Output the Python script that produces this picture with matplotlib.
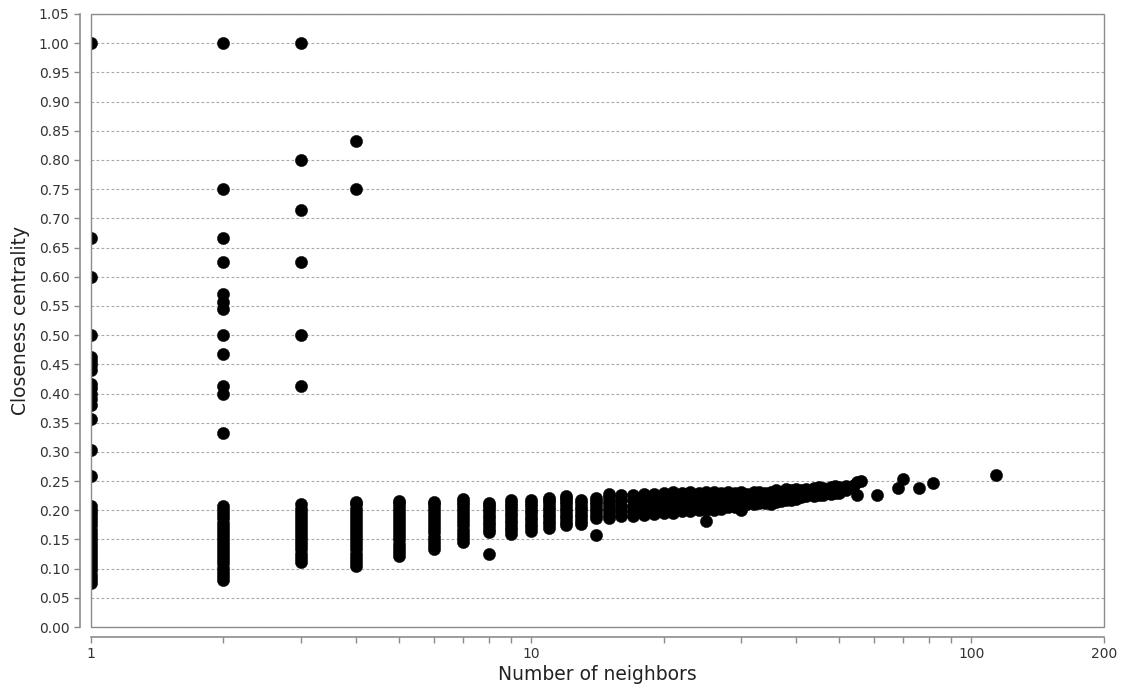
import matplotlib
matplotlib.use("Agg")
import matplotlib.pyplot as plt
import matplotlib.patches as mpatches
import matplotlib.ticker as mticker

# scattered nodes sitting away from the main cloud
sparse_deg = [1] * 16 + [2] * 12 + [3] * 6 + [4] * 2 + [8, 14, 25]
sparse_cc = [1.0, 0.667, 0.6, 0.5, 0.462, 0.455, 0.448, 0.44, 0.417, 0.41,
             0.4, 0.39, 0.38, 0.357, 0.303, 0.258,
             1.0, 0.75, 0.667, 0.625, 0.571, 0.556, 0.545, 0.5, 0.467,
             0.412, 0.4, 0.333,
             1.0, 0.8, 0.714, 0.625, 0.5, 0.412,
             0.833, 0.75,
             0.126, 0.158, 0.182]

# dense columns for low degrees
col_deg = [1, 2, 3, 4, 5, 6, 7, 8, 9, 10, 11, 12, 13, 14, 15]
col_cc = [
    [0.076, 0.083, 0.09, 0.097, 0.104, 0.111, 0.118, 0.125, 0.132, 0.139,
     0.146, 0.153, 0.16, 0.167, 0.174, 0.181, 0.188, 0.195, 0.201, 0.207],
    [0.081, 0.088, 0.095, 0.102, 0.109, 0.116, 0.123, 0.13, 0.137, 0.144,
     0.151, 0.158, 0.165, 0.172, 0.179, 0.186, 0.193, 0.2, 0.207],
    [0.112, 0.119, 0.126, 0.133, 0.14, 0.147, 0.154, 0.161, 0.168, 0.175,
     0.182, 0.189, 0.196, 0.203, 0.21],
    [0.105, 0.112, 0.119, 0.126, 0.133, 0.14, 0.147, 0.154, 0.161, 0.168,
     0.175, 0.182, 0.189, 0.196, 0.203, 0.21, 0.215],
    [0.122, 0.129, 0.136, 0.143, 0.15, 0.157, 0.164, 0.171, 0.178, 0.185,
     0.192, 0.199, 0.206, 0.213, 0.216],
    [0.134, 0.141, 0.148, 0.155, 0.162, 0.169, 0.176, 0.183, 0.19, 0.197,
     0.204, 0.21, 0.215],
    [0.146, 0.153, 0.16, 0.167, 0.174, 0.181, 0.188, 0.195, 0.202, 0.209,
     0.215, 0.22],
    [0.162, 0.168, 0.174, 0.18, 0.186, 0.192, 0.198, 0.204, 0.209, 0.213],
    [0.16, 0.166, 0.172, 0.178, 0.184, 0.19, 0.196, 0.202, 0.208, 0.213,
     0.218],
    [0.165, 0.171, 0.177, 0.183, 0.189, 0.195, 0.201, 0.207, 0.213, 0.218],
    [0.17, 0.176, 0.182, 0.188, 0.194, 0.2, 0.206, 0.212, 0.217, 0.221],
    [0.174, 0.18, 0.186, 0.192, 0.198, 0.204, 0.21, 0.216, 0.221, 0.224],
    [0.176, 0.182, 0.188, 0.194, 0.2, 0.206, 0.212, 0.218],
    [0.186, 0.192, 0.198, 0.204, 0.21, 0.216, 0.221],
    [0.186, 0.192, 0.198, 0.204, 0.21, 0.216, 0.222, 0.228],
]

# band of mid-degree nodes, five closeness levels per degree (low .. high)
band_deg = [16, 17, 18, 19, 20, 21, 22, 23, 24, 25, 26, 27, 28, 29, 30,
            31, 32, 33, 34, 35, 36, 37, 38, 39, 40, 41, 42, 44, 45, 46,
            48, 49, 50, 52]
band_lo = [0.19, 0.19, 0.192, 0.193, 0.195, 0.196, 0.198, 0.198, 0.2, 0.2,
           0.2, 0.202, 0.205, 0.205, 0.201, 0.21, 0.21, 0.212, 0.212, 0.21,
           0.214, 0.216, 0.218, 0.218, 0.22, 0.222, 0.224, 0.225, 0.226,
           0.227, 0.228, 0.229, 0.23, 0.235]
band_q1 = [0.199, 0.199, 0.201, 0.202, 0.204, 0.205, 0.206, 0.207, 0.208,
           0.208, 0.208, 0.209, 0.212, 0.211, 0.209, 0.215, 0.216, 0.217,
           0.217, 0.216, 0.219, 0.22, 0.223, 0.222, 0.224, 0.225, 0.227,
           0.228, 0.23, 0.23, 0.231, 0.232, 0.233, 0.237]
band_mid = [0.208, 0.208, 0.21, 0.211, 0.212, 0.214, 0.214, 0.215, 0.215,
            0.216, 0.216, 0.216, 0.218, 0.218, 0.217, 0.219, 0.221, 0.222,
            0.221, 0.221, 0.224, 0.224, 0.227, 0.226, 0.228, 0.228, 0.23,
            0.231, 0.233, 0.232, 0.234, 0.235, 0.235, 0.238]
band_q3 = [0.217, 0.217, 0.219, 0.219, 0.221, 0.223, 0.222, 0.224, 0.223,
           0.224, 0.224, 0.223, 0.225, 0.224, 0.224, 0.224, 0.227, 0.227,
           0.226, 0.227, 0.229, 0.228, 0.232, 0.23, 0.232, 0.231, 0.233,
           0.235, 0.237, 0.235, 0.237, 0.239, 0.238, 0.24]
band_hi = [0.226, 0.226, 0.228, 0.228, 0.23, 0.232, 0.23, 0.232, 0.23,
           0.232, 0.232, 0.23, 0.232, 0.23, 0.232, 0.228, 0.232, 0.232,
           0.23, 0.232, 0.234, 0.232, 0.236, 0.234, 0.236, 0.234, 0.236,
           0.238, 0.24, 0.238, 0.24, 0.242, 0.24, 0.242]

# hubs
tail_deg = [54, 55, 55, 56, 61, 68, 70, 76, 82, 114]
tail_cc = [0.244, 0.227, 0.248, 0.25, 0.226, 0.238, 0.253, 0.239, 0.246, 0.26]

xs, ys = list(sparse_deg), list(sparse_cc)
for d, vals in zip(col_deg, col_cc):
    xs += [d] * len(vals)
    ys += vals
for lst in (band_lo, band_q1, band_mid, band_q3, band_hi):
    xs += band_deg
    ys += lst
xs += tail_deg
ys += tail_cc

fig = plt.figure(figsize=(11.23, 6.96), dpi=100)
ax = fig.add_axes([0.081, 0.099, 0.902, 0.881])

ax.scatter(xs, ys, s=78, c="black", edgecolors="black", linewidths=0.3,
           zorder=3)

ax.set_xscale("log")
ax.set_xlim(1, 200)
ax.set_ylim(0, 1.05)

ax.xaxis.set_major_locator(mticker.FixedLocator([1, 10, 100, 200]))
ax.xaxis.set_major_formatter(mticker.FixedFormatter(["1", "10", "100", "200"]))
ax.xaxis.set_minor_locator(mticker.FixedLocator(
    [2, 3, 4, 5, 6, 7, 8, 9, 20, 30, 40, 50, 60, 70, 80, 90]))
ax.xaxis.set_minor_formatter(mticker.NullFormatter())
ax.yaxis.set_major_locator(mticker.MultipleLocator(0.05))
ax.yaxis.set_major_formatter(mticker.FormatStrFormatter("%.2f"))

gray = "#8c8c8c"
ax.grid(axis="y", color="#a8a8a8", linestyle=(0, (2.5, 2)), linewidth=0.8)
ax.grid(axis="x", visible=False)
ax.set_axisbelow(True)

for side in ("top", "right"):
    ax.spines[side].set_visible(False)
ax.spines["left"].set_position(("outward", 8))
ax.spines["bottom"].set_position(("outward", 7))
for side in ("left", "bottom"):
    ax.spines[side].set_color(gray)
    ax.spines[side].set_linewidth(1.2)
ax.add_patch(mpatches.Rectangle((0, 0), 1, 1, transform=ax.transAxes,
                                fill=False, ec=gray, lw=1.0, clip_on=False,
                                zorder=4))

ax.tick_params(which="both", direction="out", length=4, width=1,
               color=gray, labelcolor="#333333", labelsize=10)
ax.tick_params(axis="x", which="both", pad=3)

ax.set_xlabel("Number of neighbors", fontsize=13.5, color="#222222",
              labelpad=3)
ax.set_ylabel("Closeness centrality", fontsize=13.5, color="#222222",
              labelpad=6)

fig.savefig("out.png", dpi=100, facecolor="white")
